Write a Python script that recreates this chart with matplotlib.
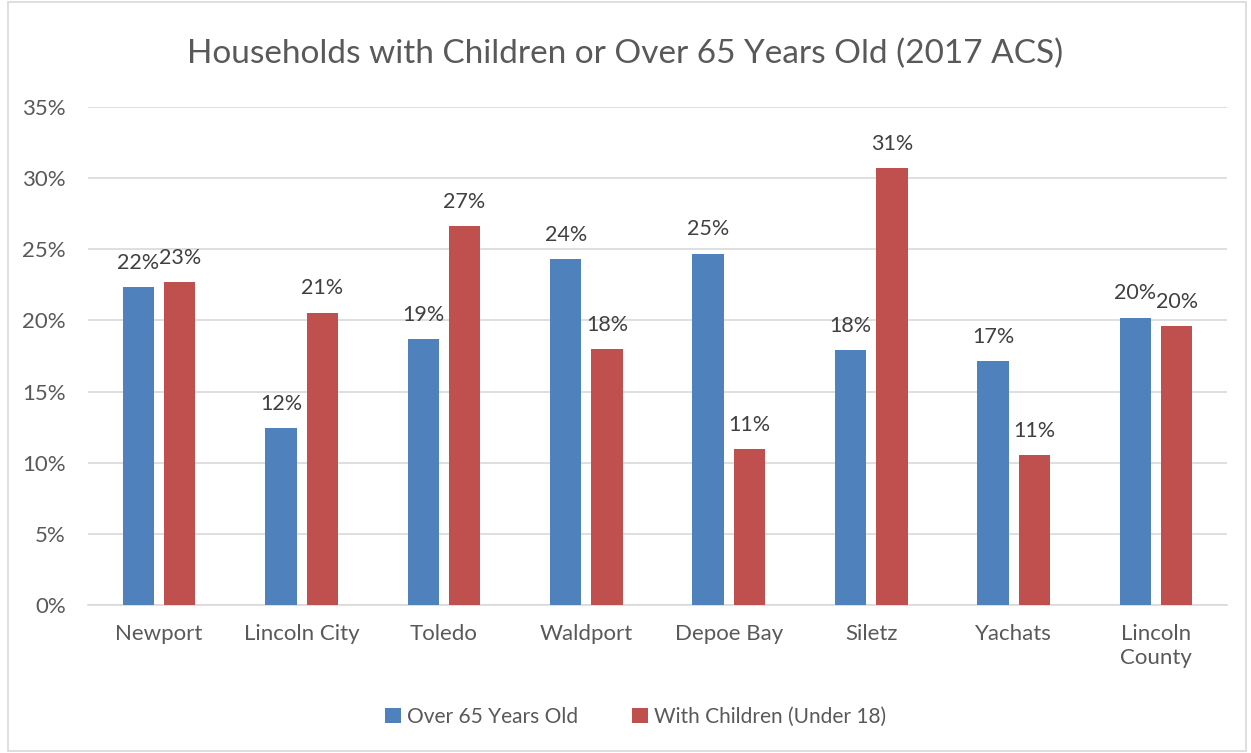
import numpy as np
import matplotlib.pyplot as plt
from matplotlib.patches import Rectangle

places = ["Newport", "Lincoln City", "Toledo", "Waldport", "Depoe Bay",
          "Siletz", "Yachats", "Lincoln\nCounty"]
over_65 = [22.35, 12.45, 18.7, 24.3, 24.7, 17.9, 17.15, 20.2]
with_children = [22.7, 20.55, 26.6, 18.0, 10.95, 30.7, 10.55, 19.6]

blue = "#4F81BD"
red = "#C0504D"
grey_text = "#595959"

plt.rcParams['font.family'] = ['Lato', 'DejaVu Sans']

fig = plt.figure(figsize=(12.51, 7.53), dpi=100)
ax = fig.add_axes([0.0703, 0.1965, 0.9107, 0.6615])

x = np.arange(len(places))
w = 0.22
off = 0.145
b1 = ax.bar(x - off, over_65, w, color=blue, label="Over 65 Years Old", zorder=3)
b2 = ax.bar(x + off, with_children, w, color=red, label="With Children (Under 18)", zorder=3)

for bars, vals in ((b1, over_65), (b2, with_children)):
    for bar, v in zip(bars, vals):
        ax.text(bar.get_x() + bar.get_width() / 2, v + 1.0, f"{int(v + 0.5)}%",
                ha="center", va="bottom", fontsize=15.5, color="#404040")

ax.set_xlim(-0.5, len(places) - 0.5)
ax.set_ylim(0, 35)
ax.set_yticks(np.arange(0, 36, 5))
ax.set_yticklabels([f"{t}%" for t in range(0, 36, 5)])
ax.set_xticks(x)
ax.set_xticklabels(places, linespacing=1.25)
ax.tick_params(axis="both", length=0, labelsize=16, labelcolor=grey_text)
ax.tick_params(axis="x", pad=14)
ax.tick_params(axis="y", pad=16)
ax.grid(axis="y", color="#D9D9D9", linewidth=1.2, zorder=0)
for s in ("top", "right", "left"):
    ax.spines[s].set_visible(False)
ax.spines["bottom"].set_color("#D9D9D9")
ax.spines["bottom"].set_linewidth(1.2)

fig.suptitle("Households with Children or Over 65 Years Old (2017 ACS)",
             y=0.948, fontsize=24, color=grey_text)

fig.legend(loc="lower center", bbox_to_anchor=(0.508, 0.01), ncol=2, frameon=False,
           fontsize=15, labelcolor=grey_text, handlelength=0.75, handleheight=0.75,
           handletextpad=0.3, columnspacing=2.6)

fig.patches.append(Rectangle((0.006, 0.003), 0.99, 0.994, transform=fig.transFigure,
                             fill=False, edgecolor="#D9D9D9", linewidth=1.2))

fig.savefig("out.png", dpi=100)
